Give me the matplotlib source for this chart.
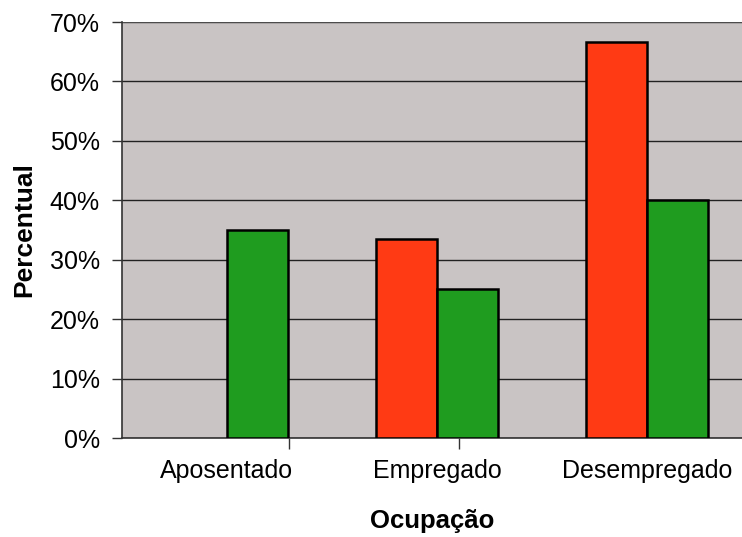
import matplotlib
matplotlib.use("Agg")
import matplotlib.pyplot as plt
import numpy as np
from matplotlib.ticker import FuncFormatter, FixedLocator

categories = ["Aposentado", "Empregado", "Desempregado"]
red_values = [0.0, 33.5, 66.7]
green_values = [35.0, 25.0, 40.0]
yticks = [0, 10, 20, 30, 40, 50, 60, 70]

plt.rcParams['font.family'] = ['Liberation Sans', 'DejaVu Sans']

fig = plt.figure(figsize=(7.42, 5.37), dpi=100)
ax = fig.add_axes([122/742, 99/537, 1 - 122/742, 416/537])
ax.set_facecolor('#c9c4c4')

x = np.arange(len(categories))
w = 0.29
red_plot = [v if v > 0 else np.nan for v in red_values]
ax.bar(x - w/2, red_plot, width=w, color='#ff3a14', edgecolor='black', linewidth=1.8, zorder=3)
ax.bar(x + w/2, green_values, width=w, color='#1f9c1f', edgecolor='black', linewidth=1.8, zorder=3)

ax.set_ylim(0, 70)
ax.set_xlim(-0.5, 2.452)
ax.set_yticks(yticks)
ax.yaxis.set_major_formatter(FuncFormatter(lambda v, p: f"{int(v)}%"))
ax.yaxis.grid(True, color='#222222', linewidth=1.0, zorder=1)
ax.set_axisbelow(True)

# category separators (tick marks) and labels
ax.xaxis.set_major_locator(FixedLocator([-0.505, 0.295, 1.105]))
ax.xaxis.set_major_formatter(FuncFormatter(lambda v, p: ""))
ax.set_xticks(x, minor=True)
ax.set_xticklabels(categories, minor=True)
ax.tick_params(axis='x', which='major', length=8, width=1, direction='out', color='#333333')
ax.tick_params(axis='x', which='minor', length=0, pad=15, labelsize=18)
ax.tick_params(axis='y', length=7, width=1, direction='out', labelsize=18, pad=9, color='#333333')

for side in ['top', 'right']:
    ax.spines[side].set_visible(False)
ax.spines['left'].set_color('#333333')
ax.spines['bottom'].set_color('#333333')
ax.spines['left'].set_linewidth(1.2)
ax.spines['bottom'].set_linewidth(1.2)
ax.axhline(70, color='#555555', linewidth=1.2, zorder=2)

ax.set_ylabel("Percentual", fontsize=19, fontweight='bold', labelpad=10)
ax.set_xlabel("Ocupação", fontsize=18.5, fontweight='bold', labelpad=19)

fig.savefig("out.png", dpi=100, facecolor='white')
